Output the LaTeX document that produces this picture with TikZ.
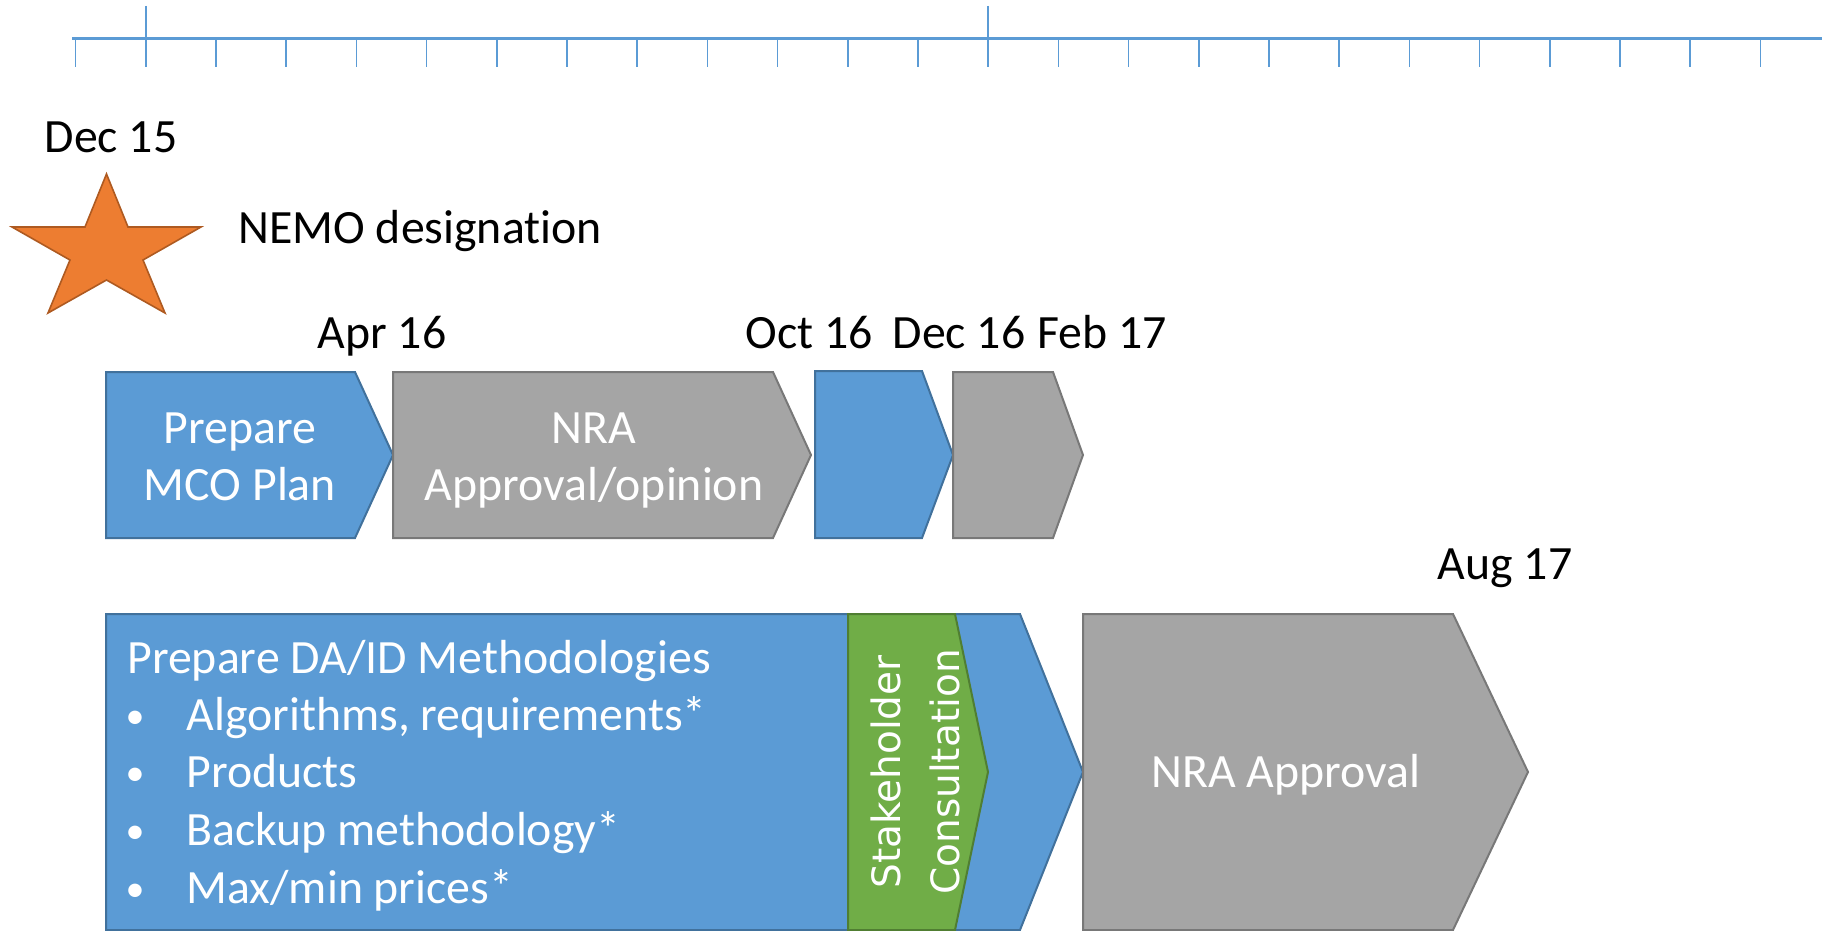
\documentclass[tikz,border=0pt]{standalone}
\usepackage{fontspec}
\setmainfont{Carlito}[Ligatures=NoCommon]
\newfontfamily\dvsfont{DejaVu Sans}
\definecolor{tlblue}{HTML}{5B9BD5}
\definecolor{pblue}{HTML}{5B9BD5}
\definecolor{pblueb}{HTML}{41719C}
\definecolor{pgray}{HTML}{A5A5A5}
\definecolor{pgrayb}{HTML}{787878}
\definecolor{pgreen}{HTML}{70AD47}
\definecolor{pgreenb}{HTML}{507E32}
\definecolor{sorange}{HTML}{ED7D31}
\definecolor{sorangeb}{HTML}{AE5A21}
\begin{document}
\begin{tikzpicture}[x=0.5pt,y=-0.5pt,
  lbl/.style={font=\fontsize{23.9}{28}\selectfont, inner sep=0pt, anchor=base, text=black},
  wlbl/.style={lbl, text=white},
  bulletlbl/.style={wlbl, font=\fontsize{19}{24}\selectfont},
  stk/.style={font=\dvsfont\fontsize{19.5}{23}\selectfont, inner sep=0pt, anchor=base, text=white, rotate=90},
  bluebox/.style={fill=pblue, draw=pblueb, line width=1pt, line join=miter},
  graybox/.style={fill=pgray, draw=pgrayb, line width=1pt, line join=miter},
  greenbox/.style={fill=pgreen, draw=pgreenb, line width=1pt, line join=miter},
  tlline/.style={draw=tlblue, line width=1.6pt},
  tltick/.style={draw=tlblue, line width=0.8pt}]
\useasboundingbox (0,0) rectangle (1822,931);

% timeline
\draw[tlline] (72,38.5) -- (1822,38.5);
\foreach \k in {0,...,24}{
  \draw[tltick] ({75.5+70.2*\k},38.5) -- ({75.5+70.2*\k},67);
}
\foreach \k in {1,13}{
  \draw[tltick] ({75.5+70.2*\k},6) -- ({75.5+70.2*\k},67);
}

% star
\draw[fill=sorange, draw=sorangeb, line width=0.8pt, line join=miter]
  (106.5,174) -- (128,227) -- (201,227) -- (143,260) -- (165,313) -- (106.5,280)
  -- (48,313) -- (70,260) -- (12,227) -- (85,227) -- cycle;
\node[lbl] (dec15) at (111,153) {Dec 15};
\node[lbl, anchor=base west] (nemo) at (238,243) {NEMO designation};

% date labels row 1
\node[lbl] (apr16) at (382,348) {Apr 16};
\node[lbl] (oct16) at (809,348) {Oct 16};
\node[lbl] (dec16) at (959,348) {Dec 16};
\node[lbl] (feb17) at (1102,348) {Feb 17};

% row 1 shapes
\draw[bluebox] (106,372) -- (355,372) -- (393,455) -- (355,538) -- (106,538) -- cycle;
\draw[graybox] (393,372) -- (773,372) -- (811,455) -- (773,538) -- (393,538) -- cycle;
\draw[bluebox] (815,371) -- (922,371) -- (953,455) -- (922,538) -- (815,538) -- cycle;
\draw[graybox] (953,372) -- (1053,372) -- (1083,455) -- (1053,538) -- (953,538) -- cycle;

\node[wlbl] (mco1) at (240,443) {Prepare};
\node[wlbl] (mco2) at (240,500) {MCO Plan};
\node[wlbl] (nra1) at (594,443) {NRA};
\node[wlbl] (nra2) at (594,500) {Approval/opinion};

% row 2
\node[lbl] (aug17) at (1505,579) {Aug 17};
\draw[bluebox] (106,614) -- (1020,614) -- (1083,772) -- (1020,930) -- (106,930) -- cycle;
\draw[greenbox] (848,614) -- (955,614) -- (988,772) -- (955,930) -- (848,930) -- cycle;
\draw[graybox] (1083,614) -- (1453,614) -- (1528,772) -- (1453,930) -- (1083,930) -- cycle;

\node[wlbl, anchor=base west] (meth) at (127,673) {Prepare DA/ID Methodologies};
\foreach \y/\t [count=\i] in {730/{Algorithms, requirements*}, 787/{Products}, 845/{Backup methodology*}, 903/{Max/min prices*}}{
  \node[bulletlbl] (bul\i) at (135,\y-1.5) {•};
  \node[wlbl, anchor=base west] (item\i) at (186,\y) {\t};
}
\node[stk] (stk1) at (900,772) {Stakeholder};
\node[stk] (stk2) at (959,772) {Consultation};
\node[wlbl] (nraapp) at (1286,787) {NRA Approval};
\end{tikzpicture}
\end{document}
